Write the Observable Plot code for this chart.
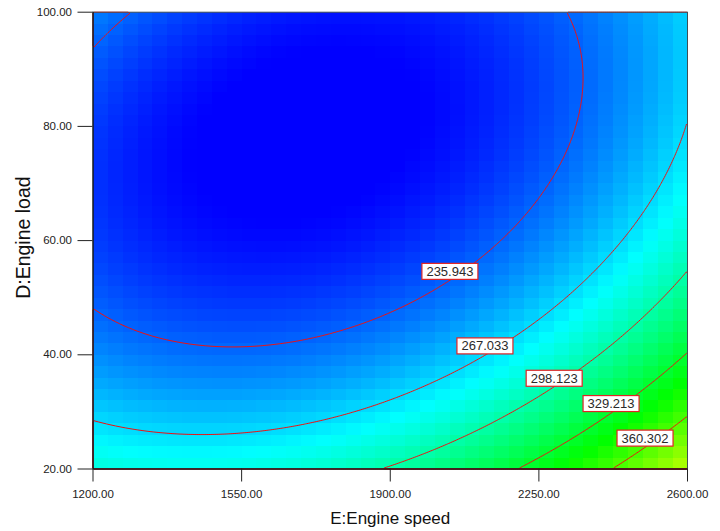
<!DOCTYPE html>
<html><head><meta charset="utf-8">
<script src="https://cdn.jsdelivr.net/npm/d3@7"></script>
<script src="https://cdn.jsdelivr.net/npm/@observablehq/plot@0.6"></script>
<style>body{margin:0;background:#fff;}</style>
</head><body><div id="chart"></div>
<script>
// Axis ticks
const speedTicks = [1200, 1550, 1900, 2250, 2600];
const loadTicks = [20, 40, 60, 80, 100];
// Contour levels and where their labels sit (speed, load)
const contourLevels = [235.943, 267.033, 298.123, 329.213, 360.302];
const labelSpeed = [2040.5, 2123, 2286, 2420, 2500];
const labelLoad = [54.55, 41.5, 35.83, 31.4, 25.35];
// Quadratic response-surface model in coded units
// A = (speed - 1900) / 700, B = (load - 60) / 40
const modelTerms = ["1", "A", "B", "AB", "A^2", "B^2"];
const modelCoefs = [218.896, 31.497, -41.934, -20.726, 38.819, 38.886];

const response = (speed, load) => {
  const A = (speed - 1900) / 700, B = (load - 60) / 40;
  const terms = [1, A, B, A * B, A * A, B * B];
  return terms.reduce((s, t, j) => s + t * modelCoefs[j], 0);
};

const font = "'Liberation Sans', Arial, sans-serif";
const chart = Plot.plot({
  width: 720, height: 531,
  marginLeft: 92.5, marginRight: 33, marginTop: 11.7, marginBottom: 62.5,
  style: {fontFamily: font, background: "#fff"},
  x: {domain: [1200, 2600]},
  y: {domain: [20, 100]},
  color: {type: "linear", domain: [210, 276, 341.5, 407, 473], range: ["#0000ff", "#00ffff", "#00ff00", "#ffff00", "#ff0000"], interpolate: "rgb", clamp: true},
  marks: [
    Plot.raster({fill: response, x1: 1200, x2: 2600, y1: 20, y2: 100, width: 40, height: 40, imageRendering: "pixelated"}),
    Plot.contour({value: response, x1: 1200, x2: 2600, y1: 20, y2: 100, thresholds: contourLevels, stroke: "#f01010", fill: "none", strokeWidth: 1}),
    Plot.frame({stroke: "#3e4e56"}),
    Plot.ruleX([1200], {stroke: "#000"}),
    Plot.ruleY([20], {stroke: "#000"}),
    Plot.axisX({ticks: speedTicks, tickSize: 13, tickPadding: 8, tickFormat: d => d.toFixed(2), fontSize: 11.5, label: null, stroke: "#222", fill: "#222"}),
    Plot.axisY({ticks: loadTicks, tickSize: 15, tickPadding: 6, tickFormat: d => d.toFixed(2), fontSize: 11.5, label: null, stroke: "#222", fill: "#222"}),
    Plot.text(contourLevels, {x: (d, i) => labelSpeed[i], y: (d, i) => labelLoad[i], text: d => d.toFixed(3), fontSize: 13, fill: "#2a2a2a", className: "clabel"}),
    Plot.text(["E:Engine speed"], {frameAnchor: "bottom", dy: 55, fontSize: 17, fill: "#111"}),
    Plot.text(["D:Engine load"], {frameAnchor: "left", textAnchor: "middle", dx: -69, dy: -3, rotate: -90, fontSize: 19.5, fill: "#111"})
  ]
});
document.getElementById("chart").append(chart);
// white label boxes with red borders behind the contour labels
chart.querySelectorAll(".clabel text").forEach(t => {
  const b = t.getBBox();
  const r = document.createElementNS("http://www.w3.org/2000/svg", "rect");
  r.setAttribute("x", b.x - 4.5); r.setAttribute("y", b.y - 0.5);
  r.setAttribute("width", b.width + 9); r.setAttribute("height", b.height + 1);
  r.setAttribute("fill", "#fff"); r.setAttribute("stroke", "#e02424"); r.setAttribute("stroke-width", 1.2);
  const tr = t.getAttribute("transform"); if (tr) r.setAttribute("transform", tr);
  t.parentNode.insertBefore(r, t);
});
</script></body></html>
